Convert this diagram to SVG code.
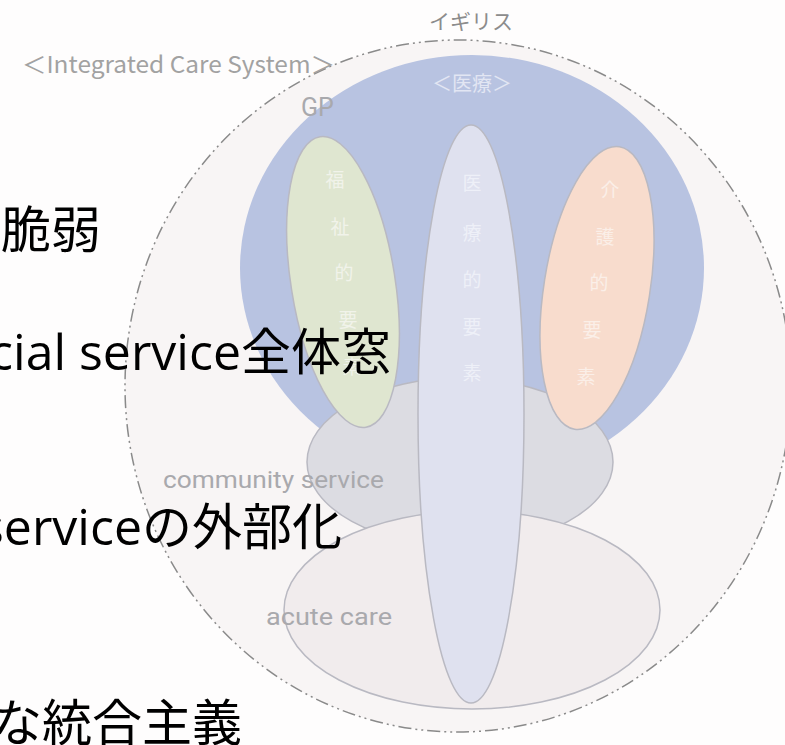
<svg xmlns="http://www.w3.org/2000/svg" width="785" height="745" viewBox="0 0 785 745">
<style>
.shape{stroke:#b9b9c2;stroke-width:1.5}
.lbl{font-family:Roboto,"Noto Sans","Noto Sans CJK JP",sans-serif;fill:#a9a9ad}
.cjk{font-family:"Noto Sans CJK JP","Noto Sans",sans-serif}
.vt{font-family:"Noto Sans CJK JP",sans-serif;font-size:19px;text-anchor:middle}
.big{font-family:"Open Sans","Noto Sans CJK JP",sans-serif;font-size:50px;fill:#000;text-anchor:end}
</style>
<rect width="785" height="745" fill="#fefdfd"/>
<g id="uk">
<ellipse cx="458" cy="386" rx="333" ry="346" fill="#f8f5f5" stroke="#8a8a8a" stroke-width="1.5" stroke-dasharray="13 4 2 4 2 4"/>
<text x="471" y="29" class="cjk" font-size="21" fill="#8c8c8c" text-anchor="middle">イギリス</text>
</g>
<g id="ics-title">
<text x="22" y="73" class="cjk" font-size="23" fill="#a2a2a2" textLength="313" lengthAdjust="spacingAndGlyphs">＜Integrated Care System＞</text>
</g>
<g id="iryo">
<ellipse cx="472" cy="268" rx="232" ry="213" fill="#b8c3e1"/>
<text x="472" y="91" class="cjk" font-size="20" fill="#e2e6f3" text-anchor="middle">＜医療＞</text>
<text x="301" y="116" class="lbl" font-size="25" fill="#a7a9b6">GP</text>
</g>
<g id="community">
<ellipse cx="460" cy="462" rx="153" ry="84" class="shape" fill="#dcdce2"/>
<text x="163" y="488" class="lbl" font-size="24" textLength="221" lengthAdjust="spacingAndGlyphs">community service</text>
</g>
<g id="acute">
<ellipse cx="472" cy="610" rx="188" ry="99" class="shape" fill="#f1eced"/>
<text x="266" y="625" class="lbl" font-size="24" textLength="126" lengthAdjust="spacingAndGlyphs">acute care</text>
</g>
<g id="fukushi">
<ellipse cx="343" cy="282" rx="52" ry="147" transform="rotate(-9 343 282)" class="shape" fill="#dfe6d0"/>
<g class="vt" fill="#f1f3ea">
<text x="335" y="187">福</text>
<text x="340" y="234">祉</text>
<text x="344" y="280">的</text>
<text x="348" y="327">要</text>
<text x="352" y="374">素</text>
</g>
</g>
<g id="kaigo">
<ellipse cx="597" cy="288" rx="53" ry="143" transform="rotate(9 597 288)" class="shape" fill="#f8dccd"/>
<g class="vt" fill="#fbefe8">
<text x="610" y="197">介</text>
<text x="605" y="244">護</text>
<text x="599" y="290">的</text>
<text x="592" y="337">要</text>
<text x="586" y="384">素</text>
</g>
</g>
<g id="iryo-element">
<ellipse cx="471" cy="414" rx="53" ry="289" class="shape" fill="#dfe1ef"/>
<g class="vt" fill="#eef0f8">
<text x="472" y="190">医</text>
<text x="472" y="240">療</text>
<text x="472" y="287">的</text>
<text x="472" y="334">要</text>
<text x="472" y="380">素</text>
</g>
</g>
<g id="connectors"></g>
<g id="bullets">
<text x="101" y="248" class="big">脆弱</text>
<text x="391" y="370" class="big">cial service全体窓</text>
<text x="342" y="545" class="big">serviceの外部化</text>
<text x="242" y="741" class="big">な統合主義</text>
</g>
</svg>
